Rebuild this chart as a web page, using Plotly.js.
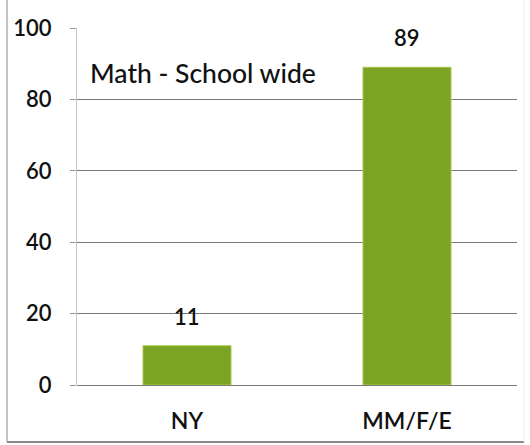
<!DOCTYPE html>
<html>
<head>
<meta charset="utf-8">
<script src="https://cdn.plot.ly/plotly-3.0.1.min.js"></script>
<style>
  html, body { margin: 0; padding: 0; background: #fff; }
  #chart { width: 530px; height: 445px; }
</style>
</head>
<body>
<div id="chart"></div>
<script>
// Math results, school wide
const categories = ['NY', 'MM/F/E'];
const values = [11, 89];
const yTicks = [0, 20, 40, 60, 80, 100];

const font = 'Lato, "Open Sans", sans-serif';
const ink = '#111111';

const trace = {
  type: 'bar',
  x: categories,
  y: values,
  marker: { color: '#7ba425', line: { color: '#a9c94a', width: 1 } },
  hoverinfo: 'x+y'
};

// value labels sit above each bar, positioned from the same values
const valueLabels = categories.map((c, i) => ({
  xref: 'x', yref: 'y',
  x: c, y: values[i],
  yanchor: 'bottom',
  yshift: 14,
  text: String(values[i]),
  showarrow: false,
  font: { family: font, size: 22, color: ink, weight: 600 }
}));

const layout = {
  width: 530,
  height: 445,
  margin: { l: 77, r: 13, t: 28, b: 60 },
  paper_bgcolor: '#ffffff',
  plot_bgcolor: '#ffffff',
  bargap: 0.6,
  showlegend: false,
  font: { family: font, size: 22, color: ink },
  xaxis: {
    showgrid: false,
    showline: false,
    ticks: '',
    ticklabelstandoff: 20,
    tickfont: { family: font, size: 23, color: ink, weight: 600 },
    fixedrange: true
  },
  yaxis: {
    range: [0, 100],
    tickvals: yTicks,
    ticktext: yTicks.map(String),
    showgrid: true,
    gridcolor: '#7a7a7a',
    gridwidth: 1,
    zeroline: true,
    zerolinecolor: '#7a7a7a',
    zerolinewidth: 1,
    showline: true,
    linecolor: '#c8c8c8',
    linewidth: 1,
    ticks: 'outside',
    ticklen: 6,
    tickcolor: '#9a9a9a',
    ticklabelstandoff: 14,
    tickfont: { family: font, size: 22, color: ink, weight: 600 },
    fixedrange: true
  },
  annotations: [{
    xref: 'paper', yref: 'paper',
    x: 0.025, y: 0.875,
    xanchor: 'left', yanchor: 'middle',
    text: 'Math - School wide',
    showarrow: false,
    font: { family: font, size: 26.5, color: ink, weight: 500 }
  }].concat(valueLabels),
  shapes: [
    { type: 'line', xref: 'paper', yref: 'paper', x0: -0.159, x1: -0.159, y0: -0.16, y1: 1.08,
      line: { color: '#c4c4c4', width: 2 }, layer: 'below' },
    { type: 'line', xref: 'paper', yref: 'paper', x0: -0.159, x1: 1.016, y0: -0.16, y1: -0.16,
      line: { color: '#8a8a8a', width: 2 }, layer: 'below' },
    { type: 'line', xref: 'paper', yref: 'paper', x0: 1.016, x1: 1.016, y0: -0.16, y1: 1.08,
      line: { color: '#ececec', width: 1 }, layer: 'below' }
  ]
};

Plotly.newPlot('chart', [trace], layout, { displayModeBar: false, staticPlot: true });
</script>
</body>
</html>
